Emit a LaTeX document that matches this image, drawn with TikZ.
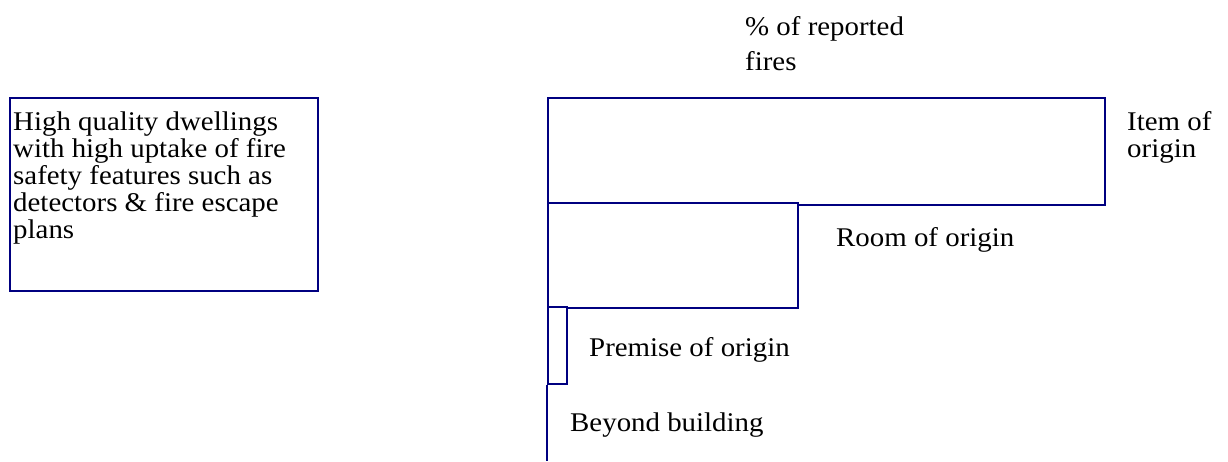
\documentclass[tikz,border=0pt]{standalone}
\usepackage{fontspec}
\setmainfont{Liberation Serif}[FakeStretch=1.07]
\definecolor{barblue}{HTML}{000080}
\begin{document}
\begin{tikzpicture}[x=1pt,y=-1pt,
  bar/.style={draw=barblue, line width=2pt, anchor=north west, inner sep=0pt, fill=white},
  lbl/.style={anchor=base west, inner sep=0pt, align=left, font=\fontsize{27}{27.5}\selectfont},
  note/.style={draw=barblue, line width=2pt, anchor=north west, inner sep=0pt}]
  \useasboundingbox (0,0) rectangle (1228,461);

  % description box (text node anchored on its last baseline)
  \node[note, minimum width=308pt, minimum height=193pt] (desc) at (9,97) {};
  \node[lbl, font=\fontsize{27}{27}\selectfont] (desctext) at (13,238)
    {High quality dwellings\\with high uptake of fire\\safety features such as\\detectors \& fire escape\\plans};

  % axis title
  \node[lbl, font=\fontsize{27}{35}\selectfont] (axis) at (745,70) {\% of reported\\fires};

  % bars: share of reported fires by extent of spread
  \node[bar, minimum width=557pt, minimum height=107pt] (item) at (547,97) {};
  \node[bar, minimum width=250pt, minimum height=105pt] (room) at (547,202) {};
  \node[bar, minimum width=19pt, minimum height=77pt] (premise) at (547,306) {};
  \coordinate (beyondend) at (547,461);
  \draw[barblue, line width=2pt] (premise.south west) -- (beyondend);

  % bar labels
  \node[lbl] (itemlbl) at (1127,157.5) {Item of\\origin};
  \node[lbl] (roomlbl) at (836,246) {Room of origin};
  \node[lbl] (premiselbl) at (589,356) {Premise of origin};
  \node[lbl] (beyondlbl) at (570,431) {Beyond building};
\end{tikzpicture}
\end{document}
